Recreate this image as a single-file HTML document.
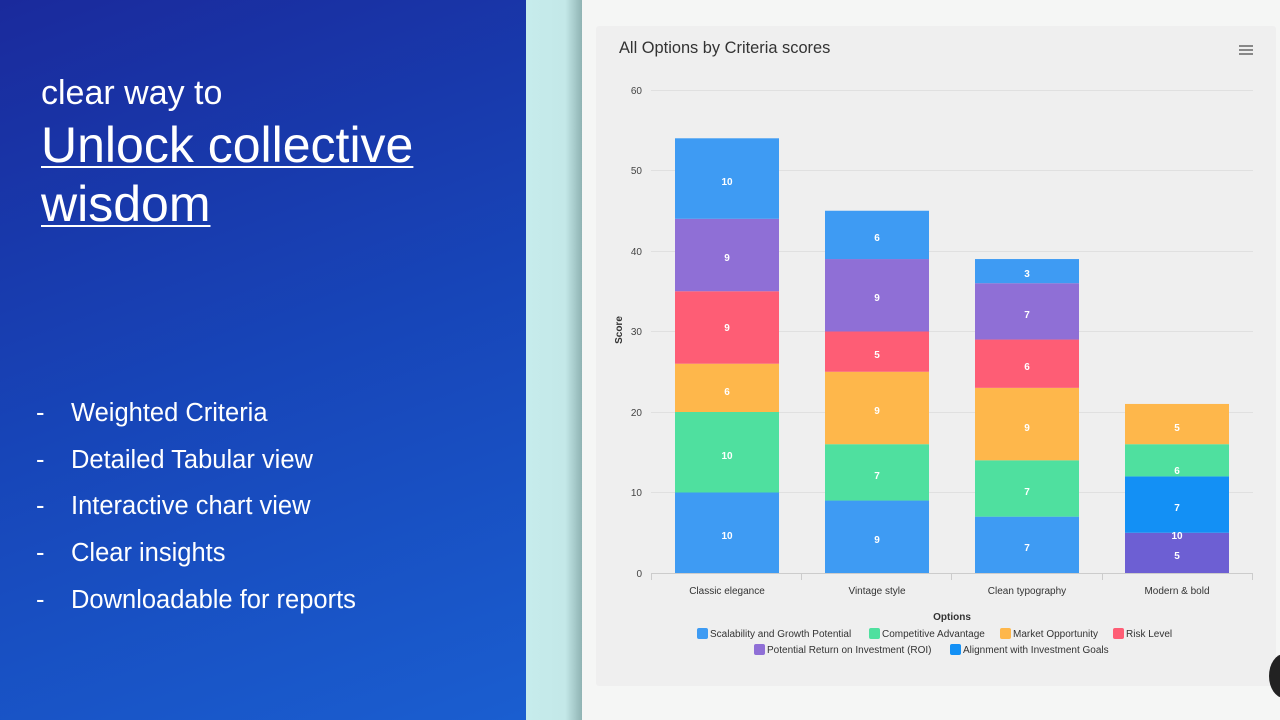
<!DOCTYPE html>
<html><head><meta charset="utf-8"><style>
body{margin:0;width:1280px;height:720px;overflow:hidden;position:relative;font-family:"Liberation Sans",sans-serif;}
.left{position:absolute;left:0;top:0;width:526px;height:720px;background:linear-gradient(160deg,#1a2a9c 0%,#1745b8 50%,#1a5ed0 100%);color:#fff;}
.strip{position:absolute;left:526px;top:0;width:56px;height:720px;background:linear-gradient(90deg,#c6ecec 0%,#c4e8e8 70%,#8fb3b3 100%);}
.main{position:absolute;left:582px;top:0;width:698px;height:720px;background:#f5f6f5;}
.card{position:absolute;left:596px;top:26px;width:680px;height:660px;background:#efefef;border-radius:3px;}
ul{list-style:none;margin:0;padding:0;position:absolute;left:36px;top:397px;}
li{font-size:25.5px;height:46.7px;line-height:32px;}
li span{display:inline-block;width:35px;}
</style></head><body>
<div class="left">
<div style="position:absolute;left:41px;top:74px;font-size:34px;">clear way to</div>
<div style="position:absolute;left:41px;top:116px;font-size:50px;line-height:59px;text-decoration:underline;text-decoration-thickness:2px;text-underline-offset:4px;">Unlock collective<br>wisdom</div>
<ul><li><span>-</span>Weighted Criteria</li><li><span>-</span>Detailed Tabular view</li><li><span>-</span>Interactive chart view</li><li><span>-</span>Clear insights</li><li><span>-</span>Downloadable for reports</li></ul>
</div>
<div class="strip"></div>
<div class="main"></div>
<div class="card"></div>
<div style="position:absolute;left:1269px;top:654px;width:30px;height:44px;border-radius:50%;background:#222;"></div>
<svg width="1280" height="720" style="position:absolute;left:0;top:0" font-family="Liberation Sans, sans-serif">
<text x="619" y="53" font-size="16.4" fill="#333">All Options by Criteria scores</text>
<g stroke="#666" stroke-width="1.5"><line x1="1239" y1="46" x2="1253" y2="46"/><line x1="1239" y1="50" x2="1253" y2="50"/><line x1="1239" y1="54" x2="1253" y2="54"/></g>
<g stroke="#e0e0e0"><line x1="651" y1="90.5" x2="1253" y2="90.5"/><line x1="651" y1="170.5" x2="1253" y2="170.5"/><line x1="651" y1="251.5" x2="1253" y2="251.5"/><line x1="651" y1="331.5" x2="1253" y2="331.5"/><line x1="651" y1="412.5" x2="1253" y2="412.5"/><line x1="651" y1="492.5" x2="1253" y2="492.5"/></g>
<line x1="651" y1="573.5" x2="1253" y2="573.5" stroke="#ccc"/>
<g stroke="#ccc"><line x1="651.5" y1="573" x2="651.5" y2="580"/><line x1="801.5" y1="573" x2="801.5" y2="580"/><line x1="951.5" y1="573" x2="951.5" y2="580"/><line x1="1102.5" y1="573" x2="1102.5" y2="580"/><line x1="1252.5" y1="573" x2="1252.5" y2="580"/></g>
<g font-size="10" fill="#444" text-anchor="end"><text x="642" y="94">60</text><text x="642" y="174">50</text><text x="642" y="255">40</text><text x="642" y="335">30</text><text x="642" y="416">20</text><text x="642" y="496">10</text><text x="642" y="577">0</text></g>
<text x="622" y="330" font-size="10" font-weight="bold" fill="#333" transform="rotate(-90 622 330)" text-anchor="middle">Score</text>
<rect x="675" y="492.5" width="104" height="80.5" fill="#3e9bf3"/>
<rect x="675" y="412" width="104" height="80.5" fill="#4fe09f"/>
<rect x="675" y="363.7" width="104" height="48.3" fill="#feb74b"/>
<rect x="675" y="291.25" width="104" height="72.45" fill="#fe5d75"/>
<rect x="675" y="218.8" width="104" height="72.45" fill="#8f6fd6"/>
<rect x="675" y="138.3" width="104" height="80.5" fill="#3e9bf3"/>
<rect x="825" y="500.55" width="104" height="72.45" fill="#3e9bf3"/>
<rect x="825" y="444.2" width="104" height="56.35" fill="#4fe09f"/>
<rect x="825" y="371.75" width="104" height="72.45" fill="#feb74b"/>
<rect x="825" y="331.5" width="104" height="40.25" fill="#fe5d75"/>
<rect x="825" y="259.05" width="104" height="72.45" fill="#8f6fd6"/>
<rect x="825" y="210.75" width="104" height="48.3" fill="#3e9bf3"/>
<rect x="975" y="516.65" width="104" height="56.35" fill="#3e9bf3"/>
<rect x="975" y="460.3" width="104" height="56.35" fill="#4fe09f"/>
<rect x="975" y="387.85" width="104" height="72.45" fill="#feb74b"/>
<rect x="975" y="339.55" width="104" height="48.3" fill="#fe5d75"/>
<rect x="975" y="283.2" width="104" height="56.35" fill="#8f6fd6"/>
<rect x="975" y="259.05" width="104" height="24.15" fill="#3e9bf3"/>
<rect x="1125" y="532.75" width="104" height="40.25" fill="#6d5fd3"/>
<rect x="1125" y="476.4" width="104" height="56.35" fill="#1390f5"/>
<rect x="1125" y="444.2" width="104" height="32.2" fill="#4fe09f"/>
<rect x="1125" y="403.95" width="104" height="40.25" fill="#feb74b"/>
<g font-size="10" font-weight="bold" fill="#fff" text-anchor="middle">
<text x="727" y="539">10</text><text x="727" y="459">10</text><text x="727" y="395">6</text><text x="727" y="331">9</text><text x="727" y="261">9</text><text x="727" y="185">10</text>
<text x="877" y="543">9</text><text x="877" y="479">7</text><text x="877" y="414">9</text><text x="877" y="358">5</text><text x="877" y="301">9</text><text x="877" y="241">6</text>
<text x="1027" y="551">7</text><text x="1027" y="495">7</text><text x="1027" y="431">9</text><text x="1027" y="370">6</text><text x="1027" y="318">7</text><text x="1027" y="277">3</text>
<text x="1177" y="559">5</text><text x="1177" y="539">10</text><text x="1177" y="511">7</text><text x="1177" y="474">6</text><text x="1177" y="431">5</text>
</g>
<g font-size="10" fill="#333" text-anchor="middle"><text x="727" y="594">Classic elegance</text><text x="877" y="594">Vintage style</text><text x="1027" y="594">Clean typography</text><text x="1177" y="594">Modern &amp; bold</text></g>
<text x="952" y="620" font-size="10" font-weight="bold" fill="#333" text-anchor="middle">Options</text>
<g font-size="10" fill="#333">
<rect x="697" y="628" width="11" height="11" rx="2" fill="#3e9bf3"/><text x="710" y="637">Scalability and Growth Potential</text>
<rect x="869" y="628" width="11" height="11" rx="2" fill="#4fe09f"/><text x="882" y="637">Competitive Advantage</text>
<rect x="1000" y="628" width="11" height="11" rx="2" fill="#feb74b"/><text x="1013" y="637">Market Opportunity</text>
<rect x="1113" y="628" width="11" height="11" rx="2" fill="#fe5d75"/><text x="1126" y="637">Risk Level</text>
<rect x="754" y="644" width="11" height="11" rx="2" fill="#8f6fd6"/><text x="767" y="653">Potential Return on Investment (ROI)</text>
<rect x="950" y="644" width="11" height="11" rx="2" fill="#1390f5"/><text x="963" y="653">Alignment with Investment Goals</text>
</g>
</svg>
</body></html>
